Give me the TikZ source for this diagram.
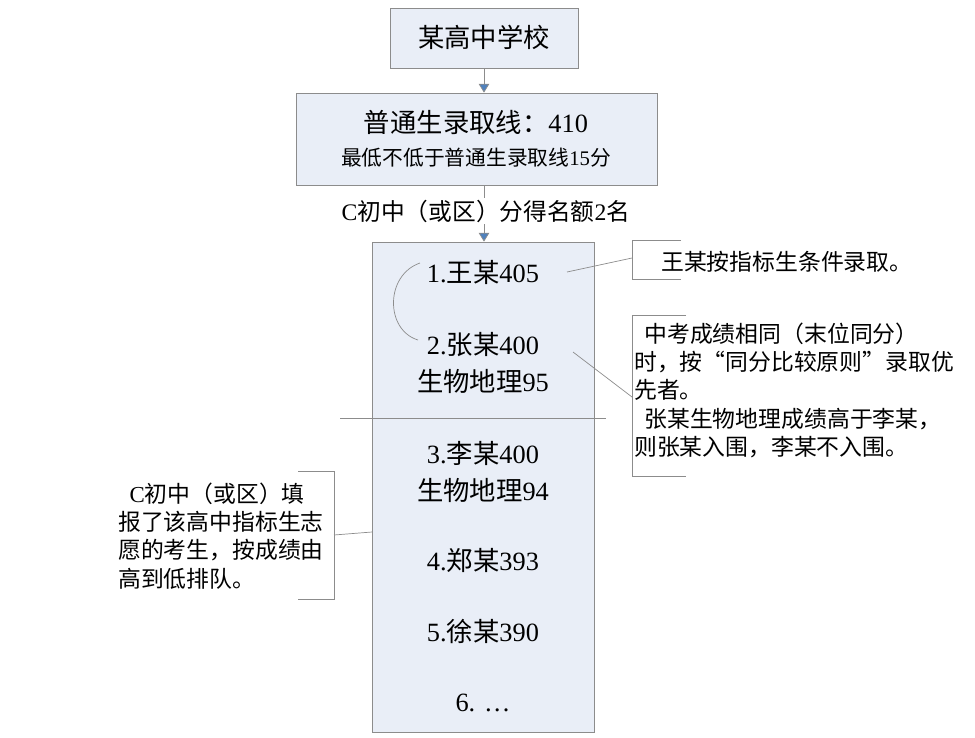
\documentclass[tikz,border=0pt]{standalone}
\usepackage{fontspec}
\setmainfont{Liberation Serif}
\newfontfamily\cjk{Noto Sans CJK SC}
\usetikzlibrary{arrows.meta}
\definecolor{boxfill}{HTML}{E9EEF7}
\definecolor{boxline}{HTML}{8C8C8C}
\definecolor{arrowblue}{HTML}{4F81BD}
\tikzset{
  box/.style={draw=boxline,fill=boxfill,inner sep=0pt},
  big/.style={font=\fontsize{15}{17}\selectfont},
  note/.style={font=\fontsize{13}{16}\selectfont,align=left,anchor=north west},
  flow/.style={draw=boxline,-{Triangle[length=5pt,width=6pt,fill=arrowblue]}},
}
\begin{document}
\begin{tikzpicture}[x=0.02cm,y=-0.02cm]
\useasboundingbox (0,0) rectangle (975,738);

% boxes
\node[box,minimum width=188*0.02cm,minimum height=60*0.02cm] at (484,38) (school) {};
\node[big] at (484,37) {\cjk 某高中学校};
\node[box,minimum width=361*0.02cm,minimum height=92*0.02cm] at (476.5,139) (line) {};
\node[big] at (476,122) {{\cjk 普通生录取线：}410};
\node[font=\fontsize{11.8}{13}\selectfont] at (476,158) {{\cjk 最低不低于普通生录取线}15{\cjk 分}};
\node[box,minimum width=222*0.02cm,minimum height=490*0.02cm] at (483,487) (list) {};

% arrows
\draw[flow] (school.south) -- (school.south |- line.north);
\coordinate (top) at (484,185);
\draw[flow] (top) -- (top |- list.north);
\node[fill=white,inner sep=1pt,font=\fontsize{13.5}{15}\selectfont] at (486,211) {C{\cjk 初中（或区）分得名额}2{\cjk 名}};

% separator
\coordinate (sepl) at (340,418);
\coordinate (sepr) at (606,418);
\draw[boxline] (sepl) -- (sepr);

% names
\node[big] at (483,272) (s1) {1.{\cjk 王某}405};
\node[big] at (483,345) (s2) {2.{\cjk 张某}400};
\node[big] at (483,381) (s2b) {{\cjk 生物地理}95};
\node[big] at (483,453) (s3) {3.{\cjk 李某}400};
\node[big] at (483,490) (s3b) {{\cjk 生物地理}94};
\node[big] at (483,560) (s4) {4.{\cjk 郑某}393};
\node[big] at (483,631) (s5) {5.{\cjk 徐某}390};
\node[big] at (483,703) (s6) {6. \dots};

% tie arc
\coordinate (arca) at (420,263);
\coordinate (arcb) at (418,340);
\draw[boxline] (arca) .. controls (385,275) and (385,330) .. (arcb);

% callout 1
\draw[boxline] (681,240) -- (632,240) -- (632,279) -- (681,279);
\node[note] at (655,245) (n1) {\cjk 王某按指标生条件录取。};
\coordinate (c1a) at (567,272);
\coordinate (c1b) at (632,258);
\draw[boxline] (c1a) -- (c1b);

% callout 2
\draw[boxline] (686,315) -- (632,315) -- (632,476) -- (686,476);
\node[note] at (628,317) (n2) {\cjk \ \ 中考成绩相同（末位同分）\\\cjk 时，按“同分比较原则”录取优\\\cjk 先者。\\\cjk \ \ 张某生物地理成绩高于李某，\\\cjk 则张某入围，李某不入围。};
\coordinate (c2a) at (573,352);
\coordinate (c2b) at (632,397);
\draw[boxline] (c2a) -- (c2b);

% callout 3
\draw[boxline] (298,471) -- (334,471) -- (334,599) -- (298,599);
\node[note] at (112,477) (n3) {\ \ C{\cjk 初中（或区）填}\\\cjk 报了该高中指标生志\\\cjk 愿的考生，按成绩由\\\cjk 高到低排队。};
\coordinate (c3a) at (334,535);
\coordinate (c3b) at (372,532);
\draw[boxline] (c3a) -- (c3b);
\end{tikzpicture}
\end{document}
